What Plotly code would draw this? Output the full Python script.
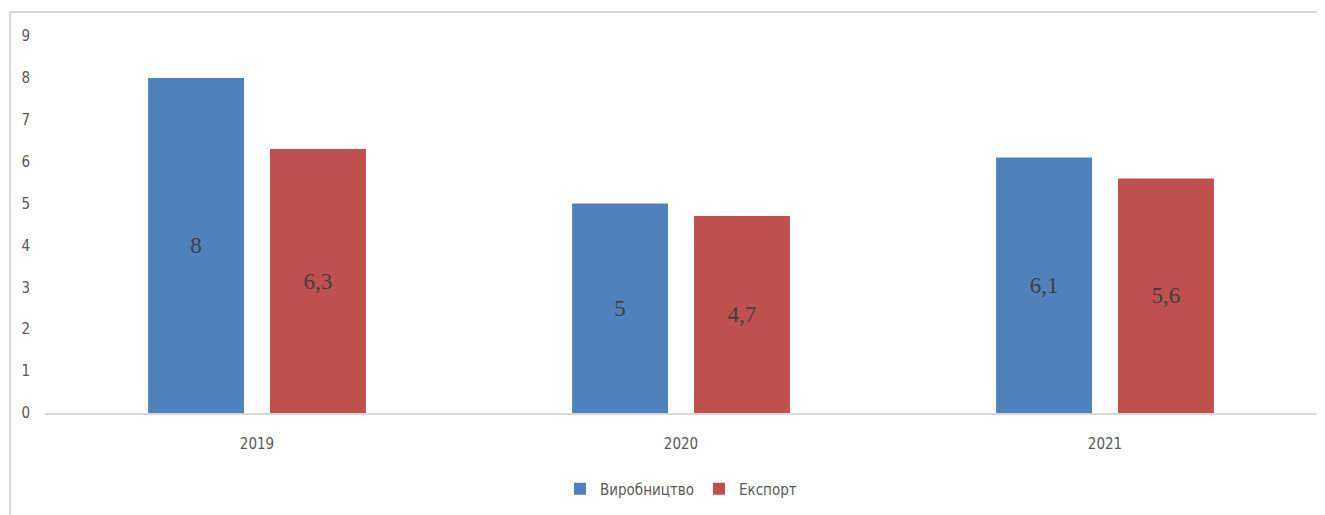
import plotly.graph_objects as go

years = ["2019", "2020", "2021"]
production = [8, 5, 6.1]
export = [6.3, 4.7, 5.6]
series_names = ["Виробництво", "Експорт"]
y_ticks = [0, 1, 2, 3, 4, 5, 6, 7, 8, 9]

def fmt(v):
    s = f"{v:g}"
    return s.replace(".", ",")

LABEL_FONT = dict(family="Liberation Serif", size=23, color="#404040")
SANS = "DejaVu Sans Condensed, Liberation Sans"

fig = go.Figure()
fig.add_trace(go.Bar(
    x=years, y=production, name=series_names[0],
    marker=dict(color="#4f81bd", line=dict(width=0)),
    text=[fmt(v) for v in production], textposition="inside",
    insidetextanchor="middle", textfont=LABEL_FONT,
))
fig.add_trace(go.Bar(
    x=years, y=export, name=series_names[1],
    marker=dict(color="#c0504d", line=dict(width=0)),
    text=[fmt(v) for v in export], textposition="inside",
    insidetextanchor="middle", textfont=LABEL_FONT,
))

OFF = 8  # page body margin
W, H = 1325 - OFF, 515 - OFF
L, R, T, B = 45 - OFF, 8, 36 - OFF, 102
pw = W - L - R
ph = H - T - B

def px(x):
    return (x - OFF - L) / pw

def py(y):
    return (H - B - (y - OFF)) / ph

fig.update_layout(
    width=W, height=H,
    margin=dict(l=L, r=R, t=T, b=B),
    plot_bgcolor="white", paper_bgcolor="white",
    barmode="group", bargap=0.425, bargroupgap=0.213,
    font=dict(family=SANS, color="#595959", size=15),
    showlegend=True,
    legend=dict(orientation="h", x=0.5, xanchor="center", y=py(489), yanchor="middle",
                font=dict(family=SANS, size=15, color="#595959"), itemwidth=30,
                traceorder="normal"),
    xaxis=dict(showgrid=False, showline=True, linecolor="#d9d9d9", linewidth=2,
               ticks="", tickfont=dict(family=SANS, size=15, color="#595959"),
               ticklabelstandoff=16),
    yaxis=dict(range=[0, 9], tickvals=y_ticks, showgrid=False, showline=False,
               zeroline=False, ticks="", tickfont=dict(family=SANS, size=15, color="#595959"),
               ticklabelstandoff=14),
    shapes=[
        dict(type="line", xref="paper", yref="paper", x0=px(10), x1=px(1330),
             y0=py(12), y1=py(12), line=dict(color="#d9d9d9", width=2)),
        dict(type="line", xref="paper", yref="paper", x0=px(10), x1=px(10),
             y0=py(12), y1=py(520), line=dict(color="#d9d9d9", width=2)),
    ],
)

fig.write_html("out.html")
